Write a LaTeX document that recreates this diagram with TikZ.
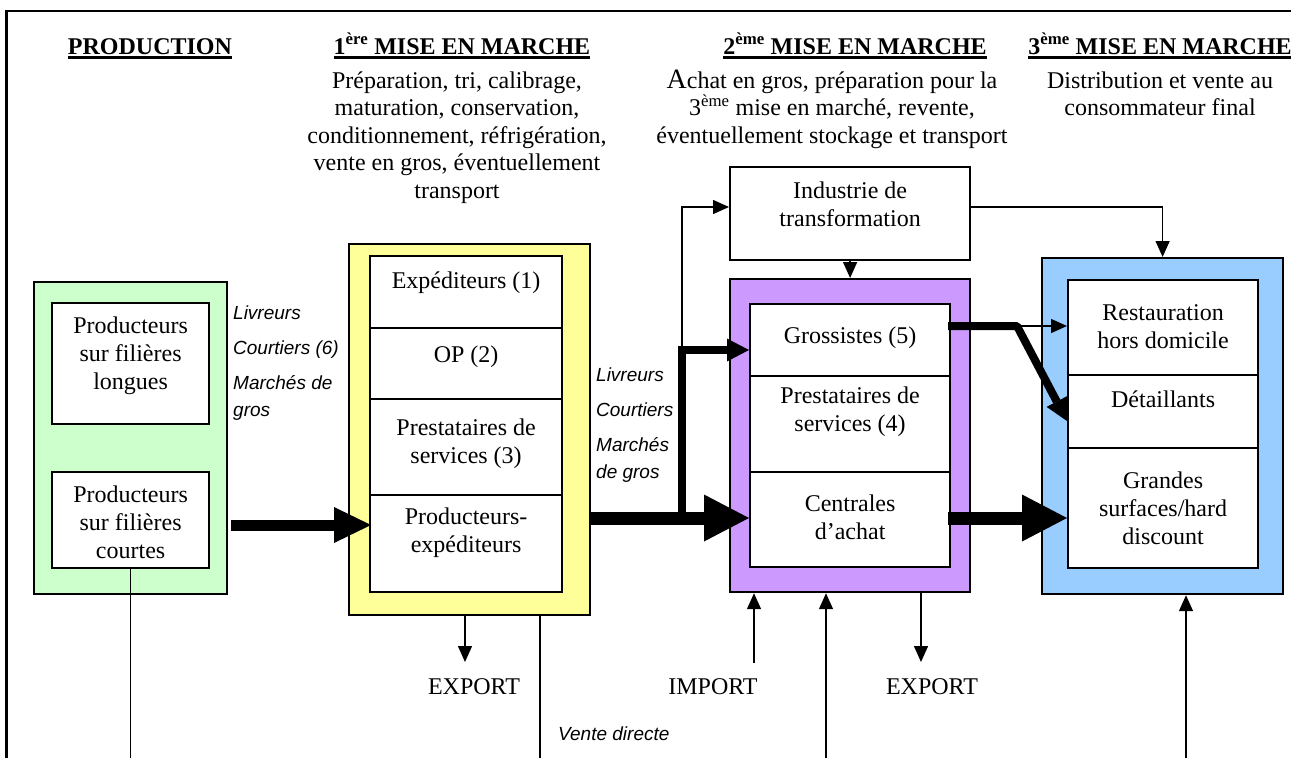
\documentclass[tikz,border=0pt]{standalone}
\usepackage{fontspec}
\setmainfont{Liberation Serif}
\newfontfamily\arialfont{Liberation Sans}
\usetikzlibrary{arrows.meta,calc}
\definecolor{gfill}{HTML}{CCFFCC}
\definecolor{yfill}{HTML}{FFFF99}
\definecolor{pfill}{HTML}{CC99FF}
\definecolor{bfill}{HTML}{99CCFF}
\newcommand\myul[1]{\setbox0\hbox{#1}\rlap{\rule[-4.5pt]{\wd0}{2.2pt}}\box0}
\begin{document}
\begin{tikzpicture}[x=1pt,y=-1pt,
  box/.style={draw, line width=2.2pt, inner sep=0pt, anchor=north west},
  cell/.style={box, fill=white},
  txt/.style={font=\fontsize{24pt}{28pt}\selectfont, align=center, inner sep=0pt},
  desc/.style={font=\fontsize{24pt}{27.5pt}\selectfont, align=center, inner sep=0pt, anchor=base},
  head/.style={font=\fontsize{24pt}{28pt}\selectfont\bfseries, inner sep=0pt, anchor=base},
  ital/.style={font=\arialfont\itshape\fontsize{19pt}{27pt}\selectfont, align=left, inner sep=0pt, anchor=base west},
  conn/.style={line width=1.4pt},
  tip/.style={conn, -{Triangle[length=16pt,width=14pt]}},
  bigA/.style={line width=11pt, -{Triangle[length=37pt,width=36pt,line width=0pt]}},
  bigB/.style={line width=13pt, -{Triangle[length=45pt,width=47pt,line width=0pt]}},
  midarrow/.style={line width=8pt, line join=bevel, -{Triangle[length=22pt,width=23pt,line width=0pt]}}
]
\useasboundingbox (0,0) rectangle (1291,758);

% frame
\draw[line width=2.4pt, line join=miter] (6.5,758) -- (6.5,11) -- (1291,11);

% headings
\node[head] (h0) at (150,54) {\myul{PRODUCTION}};
\node[head] (h1) at (462,54) {\myul{1\textsuperscript{ère} MISE EN MARCHE}};
\node[head] (h2) at (855,54) {\myul{2\textsuperscript{ème} MISE EN MARCHE}};
\node[head] (h3) at (1160,54) {\myul{3\textsuperscript{ème} MISE EN MARCHE}};

% descriptions (base = baseline of last line)
\node[desc] (d1) at (457,198) {Préparation, tri, calibrage,\\maturation, conservation,\\conditionnement, réfrigération,\\vente en gros, éventuellement\\transport};
\node[desc] (d2) at (832,143) {{\fontsize{28pt}{28pt}\selectfont A}chat en gros, préparation pour la\\3\textsuperscript{ème} mise en marché, revente,\\éventuellement stockage et transport};
\node[desc] (d3) at (1160,115.5) {Distribution et vente au\\consommateur final};

% production
\node[box, fill=gfill, minimum width=193pt, minimum height=312pt] (G) at (33,281) {};
\node[cell, minimum width=157pt, minimum height=121pt] (G1) at (51,302) {};
\node[txt] (g1t) at ([yshift=8pt]G1.center) {Producteurs\\sur filières\\longues};
\node[cell, minimum width=157pt, minimum height=96pt] (G2) at (51,471) {};
\node[txt] (g2t) at ([yshift=-2pt]G2.center) {Producteurs\\sur filières\\courtes};

% 1ere mise en marche
\node[box, fill=yfill, minimum width=241pt, minimum height=371pt] (Yo) at (348,243) {};
\node[cell, minimum width=192pt, minimum height=72pt] (Y1) at (369,255) {};
\node[cell, minimum width=192pt, minimum height=71pt] (Y2) at (369,327) {};
\node[cell, minimum width=192pt, minimum height=96pt] (Y3) at (369,398) {};
\node[cell, minimum width=192pt, minimum height=97pt] (Y4) at (369,494) {};
\node[txt] (y1t) at ([yshift=9pt]Y1.center) {Expéditeurs (1)};
\node[txt] (y2t) at ([yshift=7pt]Y2.center) {OP (2)};
\node[txt] (y3t) at ([yshift=3pt]Y3.center) {Prestataires de\\services (3)};
\node[txt] (y4t) at ([yshift=11pt]Y4.center) {Producteurs-\\expéditeurs};

% industrie
\node[box, fill=white, minimum width=240pt, minimum height=93pt] (I) at (729,166) {};
\node[txt] (it) at ([yshift=9pt]I.center) {Industrie de\\transformation};

% 2eme mise en marche
\node[box, fill=pfill, minimum width=240pt, minimum height=313pt] (Po) at (729,278) {};
\node[cell, minimum width=200pt, minimum height=72pt] (P1) at (749,303) {};
\node[cell, minimum width=200pt, minimum height=96pt] (P2) at (749,375) {};
\node[cell, minimum width=200pt, minimum height=95pt] (P3) at (749,471) {};
\node[txt] (p1t) at ([yshift=2pt]P1.center) {Grossistes (5)};
\node[txt] (p2t) at ([yshift=12pt]P2.center) {Prestataires de\\services (4)};
\node[txt] (p3t) at ([yshift=2pt]P3.center) {Centrales\\d’achat};

% 3eme mise en marche
\node[box, fill=bfill, minimum width=241pt, minimum height=336pt] (Bo) at (1041,257) {};
\node[cell, minimum width=190pt, minimum height=95pt] (B1) at (1067,279) {};
\node[cell, minimum width=190pt, minimum height=73pt] (B2) at (1067,374) {};
\node[cell, minimum width=190pt, minimum height=120pt] (B3) at (1067,447) {};
\node[txt] (b1t) at ([yshift=1pt]B1.center) {Restauration\\hors domicile};
\node[txt] (b2t) at ([yshift=12pt]B2.center) {Détaillants};
\node[txt] (b3t) at (B3.center) {Grandes\\surfaces/hard\\discount};

% italic labels (base = baseline of last line)
\node[ital] (l1) at (233,416) {Livreurs\\[8pt]Courtiers (6)\\[8pt]Marchés de\\gros};
\node[ital] (l2) at (596,478) {Livreurs\\[8pt]Courtiers\\[8pt]Marchés\\de gros};
\node[ital] (vd) at (558,740) {Vente directe};

% import / export
\node[txt, anchor=base] (ex1) at (474,694) {EXPORT};
\node[txt, anchor=base] (im) at (713,694) {IMPORT};
\node[txt, anchor=base] (ex2) at (932,694) {EXPORT};

% levels
\coordinate (lvA) at (0,525);
\coordinate (lvB) at (0,518);
\coordinate (lvC) at (0,350);
\coordinate (lvD) at (0,207);
\coordinate (lvE) at (0,326);
\coordinate (lvF) at (0,421);
\coordinate (bx) at (682,0);
\coordinate (sp) at (1017,326);
\coordinate (bot) at (0,758);

% thick flows
\draw[bigA] ($(G.east |- lvA)+(3,0)$) -- ($(Y4.west |- lvA)+(2,0)$);
\draw[bigB] (Yo.east |- lvB) -- (P3.west |- lvB);
\draw[midarrow, line join=miter] ($(bx |- lvB)+(0,6)$) -- (bx |- lvC) -- (P1.west |- lvC);
\draw[tip] (bx |- lvC) -- (bx |- lvD) -- (I.west |- lvD);
\draw[tip] (I.south) -- (Po.north);
\draw[tip] (I.east |- lvD) -- (Bo.north |- lvD) -- (Bo.north);
\draw[midarrow] ($(P1.east |- lvE)+(-3,0)$) -- (sp) -- (B2.west |- lvF);
\draw[tip] (sp) -- (B1.west |- lvE);
\draw[bigB] ($(P3.east |- lvB)+(-3,0)$) -- (B3.west |- lvB);

% vertical lines at bottom
\coordinate (ex1a) at (465,662);
\coordinate (vdl) at (540,758);
\coordinate (ima) at (754,663);
\coordinate (pb) at (826,758);
\coordinate (ex2a) at (921,662);
\coordinate (bb) at (1186,758);
\draw[conn] (G2.south) -- (G2.south |- bot);
\draw[tip] (Yo.south -| ex1a) -- (ex1a);
\draw[conn] (Yo.south -| vdl) -- (vdl);
\draw[tip] (ima) -- (Po.south -| ima);
\draw[tip] (pb) -- (Po.south -| pb);
\draw[tip] (Po.south -| ex2a) -- (ex2a);
\draw[tip] (bb) -- (Bo.south -| bb);
\end{tikzpicture}
\end{document}
